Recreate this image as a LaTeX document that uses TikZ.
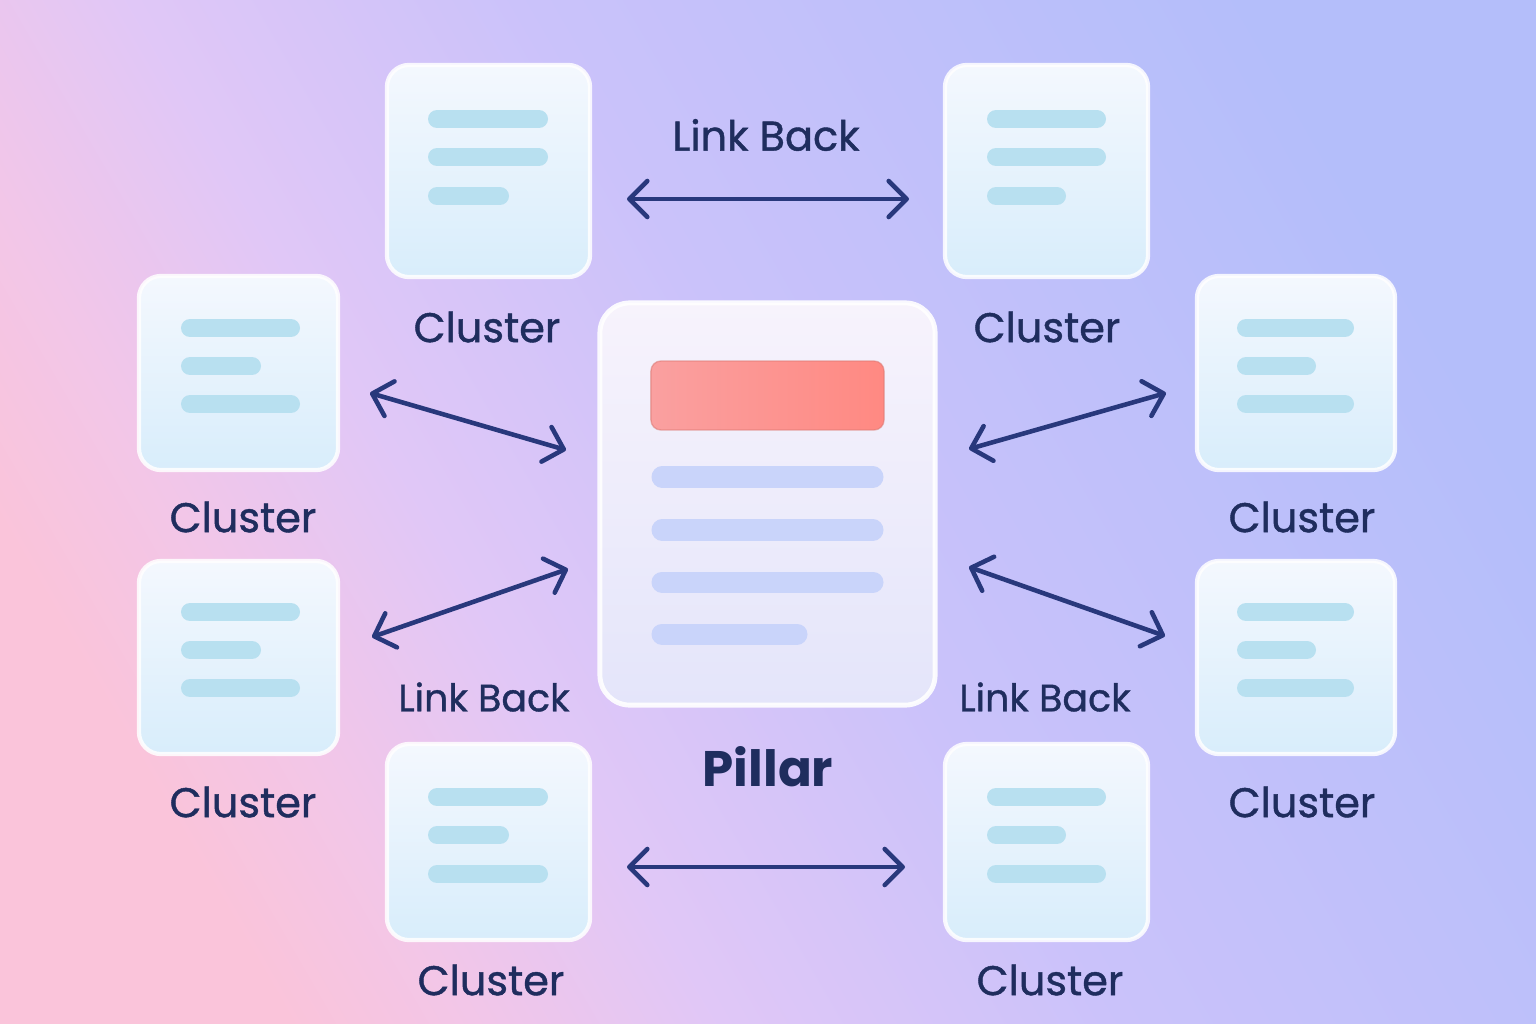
\documentclass[tikz,border=0pt]{standalone}
\usepackage{fontspec}
\setmainfont{Poppins}
\newfontfamily\medfont{Poppins}[FakeBold=1]
\usetikzlibrary{arrows.meta}
\definecolor{bgA}{RGB}{250,196,218}
\definecolor{bgB}{RGB}{242,198,232}
\definecolor{bgC}{RGB}{224,199,247}
\definecolor{bgD}{RGB}{202,194,250}
\definecolor{bgE}{RGB}{180,190,250}
\pgfdeclarehorizontalshading{bgshade}{100bp}{color(0bp)=(bgA); color(25bp)=(bgA); color(31bp)=(bgB); color(39bp)=(bgC); color(52bp)=(bgD); color(75bp)=(bgE); color(100bp)=(bgE)}
\definecolor{navy}{RGB}{31,45,94}
\definecolor{arrowc}{RGB}{40,56,124}
\definecolor{cardtop}{RGB}{244,248,254}
\definecolor{cardbot}{RGB}{216,237,251}
\definecolor{cline}{RGB}{184,224,240}
\definecolor{ptop}{RGB}{247,243,252}
\definecolor{pbot}{RGB}{228,229,250}
\definecolor{pline}{RGB}{201,212,250}
\definecolor{redl}{RGB}{250,160,160}
\definecolor{redr}{RGB}{255,137,130}
\tikzset{
  card/.style={rectangle, rounded corners=0.22cm, draw=white, draw opacity=0.85, line width=1.2pt,
    top color=cardtop, bottom color=cardbot, inner sep=0pt},
  pillarbox/.style={rectangle, rounded corners=0.30cm, draw=white, draw opacity=0.9, line width=1.4pt,
    top color=ptop, bottom color=pbot, inner sep=0pt},
  cardline/.style={line width=0.18cm, line cap=round, cline},
  pilline/.style={line width=0.21cm, line cap=round, pline},
  barb/.tip={Straight Barb[length=0.18cm, width=0.36cm, line width=1.3pt, line cap=round, line join=round]},
  link/.style={line width=1.3pt, arrowc, line cap=round, barb-barb},
  lab/.style={text=navy, font=\medfont\fontsize{11.8}{14}\selectfont, inner sep=0pt},
  linklab/.style={text=navy, font=\medfont\fontsize{10.8}{13}\selectfont, inner sep=0pt},
}
\begin{document}
\begin{tikzpicture}[x=0.01cm, y=-0.01cm]
\useasboundingbox (0,0) rectangle (1536,1024);
\shade[shading=bgshade, shading angle=30] (0,0) rectangle (1536,1024);

% cluster cards
\node[card, minimum width=2.03cm, minimum height=2.12cm] (c1) at (488.5,171) {};
\node[card, minimum width=2.03cm, minimum height=2.12cm] (c2) at (1046.5,171) {};
\node[card, minimum width=1.99cm, minimum height=1.94cm] (c3) at (238.5,373) {};
\node[card, minimum width=1.98cm, minimum height=1.94cm] (c4) at (1296,373) {};
\node[card, minimum width=1.99cm, minimum height=1.93cm] (c5) at (238.5,657.5) {};
\node[card, minimum width=1.98cm, minimum height=1.93cm] (c6) at (1296,657.5) {};
\node[card, minimum width=2.03cm, minimum height=1.96cm] (c7) at (488.5,842) {};
\node[card, minimum width=2.03cm, minimum height=1.96cm] (c8) at (1046.5,842) {};

% card lines
\draw[cardline] (437,119)--(539,119) (437,157)--(539,157) (437,196)--(500,196);
\draw[cardline] (996,119)--(1097,119) (996,157)--(1097,157) (996,196)--(1057,196);
\draw[cardline] (190,328)--(291,328) (190,366)--(252,366) (190,404)--(291,404);
\draw[cardline] (1246,328)--(1345,328) (1246,366)--(1307,366) (1246,404)--(1345,404);
\draw[cardline] (190,612)--(291,612) (190,650)--(252,650) (190,688)--(291,688);
\draw[cardline] (1246,612)--(1345,612) (1246,650)--(1307,650) (1246,688)--(1345,688);
\draw[cardline] (437,797)--(539,797) (437,835)--(500,835) (437,874)--(539,874);
\draw[cardline] (996,797)--(1097,797) (996,835)--(1057,835) (996,874)--(1097,874);

% pillar
\node[pillarbox, minimum width=3.35cm, minimum height=4.02cm] (pillar) at (767.5,504) {};
\node[rectangle, rounded corners=0.1cm, left color=redl, right color=redr, draw=redr!85!black, draw opacity=0.5, line width=0.4pt,
  minimum width=2.33cm, minimum height=0.69cm, inner sep=0pt] (head) at (767.5,395.5) {};
\draw[pilline] (662,477)--(873,477) (662,530)--(873,530) (662,582)--(873,582) (662,634)--(797,634);

% labels
\node[lab] (l1) at (487,327) {Cluster};
\node[lab] (l2) at (1047,327) {Cluster};
\node[lab] (l3) at (243,517) {Cluster};
\node[lab] (l4) at (1302,517) {Cluster};
\node[lab] (l5) at (243,802) {Cluster};
\node[lab] (l6) at (1302,802) {Cluster};
\node[lab] (l7) at (491,980) {Cluster};
\node[lab] (l8) at (1050,980) {Cluster};
\node[text=navy, font=\bfseries\fontsize{14.2}{16}\selectfont, inner sep=0pt] (pl) at (768,767) {Pillar};
\node[text=navy, font=\medfont\fontsize{11.8}{14}\selectfont, inner sep=0pt] (lb1) at (766,135) {Link Back};
\node[linklab] (lb2) at (484,697) {Link Back};
\node[linklab] (lb3) at (1045,697) {Link Back};

% arrow end points
\coordinate (a1s) at (627,199); \coordinate (a1e) at (909,199);
\coordinate (a2s) at (370,393); \coordinate (a2e) at (566,450);
\coordinate (a3s) at (969,449); \coordinate (a3e) at (1166,393);
\coordinate (a4s) at (372,637); \coordinate (a4e) at (568,569);
\coordinate (a5s) at (969,567); \coordinate (a5e) at (1165,636);
\coordinate (a6s) at (627,867); \coordinate (a6e) at (905,867);
\draw[link] (a1s) -- (a1e);
\draw[link] (a2s) -- (a2e);
\draw[link] (a3s) -- (a3e);
\draw[link] (a4s) -- (a4e);
\draw[link] (a5s) -- (a5e);
\draw[link] (a6s) -- (a6e);
\end{tikzpicture}
\end{document}
